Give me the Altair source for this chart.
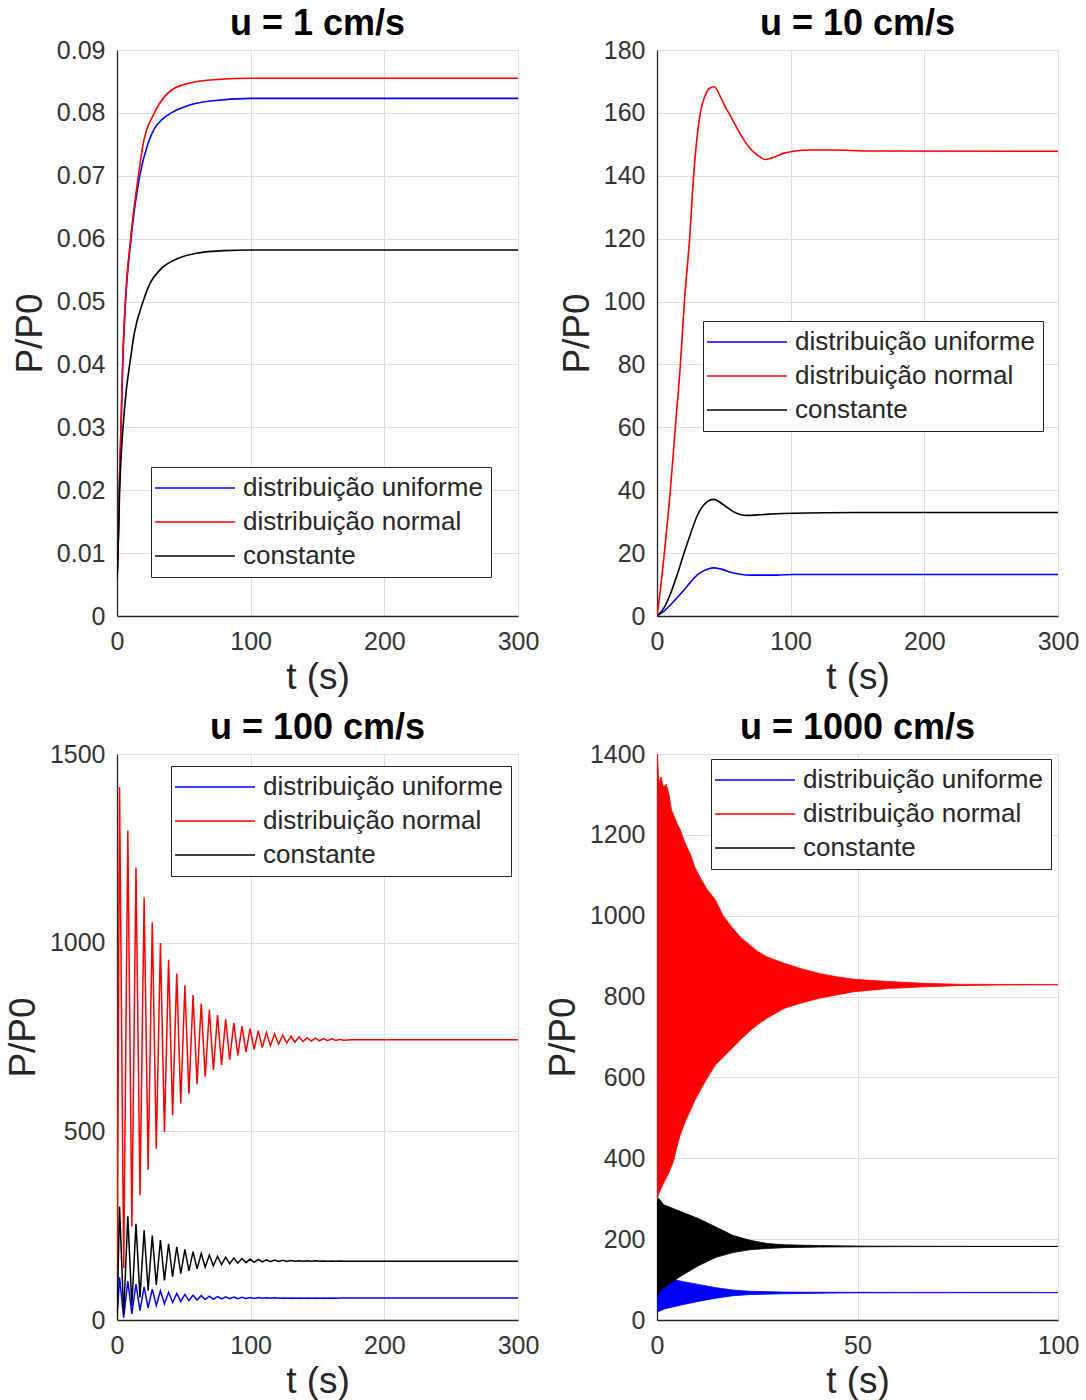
import altair as alt
import pandas as pd

FONT = "Liberation Sans"
SERIES = ["distribuição uniforme", "distribuição normal", "constante"]
COLORS = ["#0000ff", "#ff0000", "#000000"]

# ---------------- u = 1 cm/s ----------------
u1_uniform_t = [0, 0.75, 1.7, 3, 4.3, 6.4, 10.5, 17, 23, 28, 34, 40.6, 55, 70, 100, 150, 300]
u1_uniform_v = [0.0056, 0.010, 0.020, 0.030, 0.040, 0.050, 0.060, 0.070, 0.075, 0.0775, 0.079,
                0.0800, 0.0813, 0.0819, 0.0823, 0.0823, 0.0823]
u1_normal_t = [0, 0.75, 1.7, 3, 4.2, 6.2, 10.2, 16, 19.5, 28, 40.6, 55.6, 75, 100, 150, 300]
u1_normal_v = [0.0056, 0.010, 0.020, 0.030, 0.040, 0.050, 0.060, 0.070, 0.075, 0.080, 0.0836,
               0.0848, 0.0853, 0.0855, 0.0855, 0.0855]
u1_const_t = [0, 1, 2, 3, 4.5, 7, 9.5, 13, 19.5, 25, 32, 45, 60, 80, 100, 150, 300]
u1_const_v = [0.0056, 0.012, 0.020, 0.025, 0.030, 0.036, 0.040, 0.045, 0.050, 0.053, 0.055,
              0.0568, 0.0577, 0.0581, 0.0582, 0.0582, 0.0582]

# ---------------- u = 10 cm/s ----------------
u10_uniform_t = [0, 5, 10, 15, 20, 25, 30, 34, 37.4, 42.4, 48, 55, 62, 70, 80, 90, 102, 150, 300]
u10_uniform_v = [0, 1.5, 3.5, 5.8, 8.2, 10.7, 13.0, 14.2, 14.8, 15.3, 14.9, 13.9, 13.3, 13.0,
                 13.0, 13.0, 13.2, 13.2, 13.2]
u10_normal_t = [0, 3, 5.5, 10, 13.7, 17.5, 20.5, 24.4, 27.4, 32.4, 36, 40, 43, 47, 51, 55, 60,
                65, 70, 75, 81, 88, 95, 102, 115, 130, 160, 300]
u10_normal_v = [0, 10, 20, 40, 60, 80, 100, 120, 140, 160, 165.5, 168, 168.3, 165.5, 162, 159,
                155, 151.4, 148.5, 146.6, 145.2, 146, 147.2, 147.8, 148.2, 148.2, 147.9, 147.8]
u10_const_t = [0, 5, 10, 15, 20, 25, 30, 35, 42.4, 50, 57, 67, 80, 102, 150, 300]
u10_const_v = [0, 2.4, 7, 13, 19.7, 26, 31.8, 35.3, 37.1, 35.3, 33.2, 32.0, 32.3, 32.7, 32.9, 32.9]

# ---------------- u = 100 cm/s ----------------
# times of successive maxima / minima of the damped oscillation (shared by the three curves)
u100_t = [0, 1.9, 5.0, 8.1, 11.1, 14.2, 17.2, 20.3, 23.3, 26.4, 29.4, 32.5, 35.5, 38.6, 41.6,
          44.7, 47.7, 50.8, 53.8, 56.9, 59.9, 63.0, 66.0, 69.1, 72.1, 75.2, 78.2, 81.3, 84.3,
          87.4, 90.4, 93.5, 96.5, 99.6, 102.6, 105.7, 108.7, 111.8, 114.8, 117.9, 120.9, 124.0,
          127.0, 130.1, 133.1, 136.2, 139.2, 142.3, 145.3, 148.4, 151.4, 154.5, 157.5, 160.6,
          163.6, 166.7, 169.7, 175, 300]
u100_normal_peaks = [1412, 1297, 1199, 1120, 1054, 999, 955, 918, 887, 861, 839, 822, 808, 797,
                     787, 779, 772, 767, 762, 758, 755, 752, 750, 748, 747, 746, 745, 744]
u100_normal_troughs = [137, 248, 330, 398, 454, 498, 543, 574, 600, 625, 645, 663, 676, 690,
                       701, 710, 717, 722, 727, 731, 734, 736, 738, 739, 740, 740.5, 741, 741.3]
u100_normal_end = [742.5, 742.5]
u100_const_peaks = [301, 275, 255, 238, 224, 212, 202, 194, 187, 181, 176, 172, 169, 166.5,
                    164.5, 163, 161.5, 160.5, 159.5, 158.8, 158.2, 157.7, 157.3, 157, 156.7,
                    156.5, 156.3, 156.2]
u100_const_troughs = [15, 38, 60, 78, 93, 105, 115, 123, 130, 135.5, 140, 143.5, 146.5, 148.8,
                      150.6, 152, 153, 153.8, 154.4, 154.9, 155.2, 155.5, 155.7, 155.8, 155.9,
                      156, 156, 156]
u100_const_end = [156, 156]
u100_uniform_peaks = [113, 103, 95, 88, 82, 77.5, 73.5, 70.5, 68, 66, 64.5, 63.2, 62.1, 61.2,
                      60.5, 60, 59.6, 59.3, 59, 58.8, 58.6, 58.5, 58.4, 58.3, 58.2, 58.15, 58.1,
                      58.1]
u100_uniform_troughs = [6, 16, 25, 32.5, 38.5, 43, 46.5, 49.2, 51.3, 52.9, 54.1, 55, 55.7, 56.2,
                        56.6, 56.9, 57.2, 57.4, 57.5, 57.6, 57.7, 57.8, 57.85, 57.9, 57.9, 57.95,
                        57.95, 58]
u100_uniform_end = [58, 58]

# ---------------- u = 1000 cm/s (oscillation envelopes) ----------------
u1000_normal_t = [0, 0.5, 1, 1.6, 2.3, 3, 3.6, 4.1, 5.0, 5.8, 7.0, 8.4, 9.5, 11, 12.5, 14.5,
                  16.5, 18.8, 21, 23.1, 25, 27.5, 31.8, 36, 40.5, 44.8, 49.1, 57.8, 66.5, 75,
                  85, 100]
u1000_normal_hi = [1400, 1330, 1343, 1318, 1325, 1300, 1262, 1250, 1228, 1212, 1180, 1150, 1118,
                   1090, 1065, 1040, 1000, 970, 945, 928, 912, 898, 882, 869, 857, 849, 843, 837,
                   833, 830.5, 830, 830]
u1000_normal_lo = [300, 313, 325, 338, 352, 365, 380, 392, 430, 458, 490, 520, 545, 572, 598,
                   630, 650, 673, 695, 714, 730, 747, 771, 784, 796, 804, 812, 820, 824, 827,
                   828.5, 829]
u1000_const_t = [0, 0.4, 1.7, 6, 10.3, 14.7, 19, 23.3, 27.6, 31.9, 40.5, 50, 60, 75, 100]
u1000_const_hi = [290, 301, 285, 268, 251, 230, 209, 197, 189, 186, 184, 183, 182.5, 182.3,
                  182.2]
u1000_const_lo = [60, 67, 80, 109, 134, 155, 167, 174, 177, 179, 180.5, 181, 181.5, 181.7,
                  181.8]
u1000_uniform_t = [0, 0.4, 2, 4.3, 6, 10.3, 14.7, 19, 23.3, 31.9, 45, 60, 100]
u1000_uniform_hi = [60, 92, 98, 100, 96, 88, 80, 74, 71, 69, 68.5, 68.3, 68.2]
u1000_uniform_lo = [18, 21, 28, 33, 37, 46, 54, 60, 63, 65, 66.8, 67.3, 67.6]


def interleave(peaks, troughs, end):
    """Start at zero, then alternate maximum / minimum, then the settled value."""
    vals = [0]
    for p, q in zip(peaks, troughs):
        vals += [p, q]
    return vals + end


color_scale = alt.Scale(domain=SERIES, range=COLORS)

TL_LABELS = "datum.value == 0 ? '0' : format(datum.value, '.2f')"


def legend(x, y):
    return alt.Legend(
        orient="none", legendX=x, legendY=y, title=None,
        symbolType="M-4.25,0H15.75", symbolSize=64, symbolStrokeWidth=1.5, symbolOpacity=1,
        labelOffset=58, labelLimit=600, rowPadding=8, padding=8,
        fillColor="white", strokeColor="#262626",
        labelFont=FONT, labelFontSize=26, labelColor="#262626",
    )


def x_enc(x_max, ticks):
    return alt.X("t:Q", scale=alt.Scale(domain=[0, x_max], nice=False, zero=False),
                 axis=alt.Axis(values=ticks, title="t (s)", format="d"))


def y_enc(field, y_max, ticks, label_expr=None):
    if label_expr:
        ax = alt.Axis(values=ticks, title="P/P0", labelExpr=label_expr)
    else:
        ax = alt.Axis(values=ticks, title="P/P0", format="d")
    return alt.Y(f"{field}:Q", scale=alt.Scale(domain=[0, y_max], nice=False, zero=False),
                 axis=ax)


def line_panel(title, curves, x_max, x_ticks, y_max, y_ticks, lx, ly,
               width=1.6, interp="monotone", label_expr=None):
    layers = []
    for name, (ts, vs) in zip(SERIES, curves):
        df = pd.DataFrame({"t": ts, "v": vs, "s": name})
        layers.append(
            alt.Chart(df).mark_line(strokeWidth=width, interpolate=interp, clip=True).encode(
                x=x_enc(x_max, x_ticks),
                y=y_enc("v", y_max, y_ticks, label_expr),
                color=alt.Color("s:N", scale=color_scale, legend=legend(lx, ly)),
            )
        )
    return alt.layer(*layers).properties(width=401, height=566, title=title)


def band_panel(title, bands, x_max, x_ticks, y_max, y_ticks, lx, ly):
    layers = []
    for (name, col), (ts, lo, hi) in zip(zip(SERIES, COLORS), bands):
        df = pd.DataFrame({"t": ts, "lo": lo, "hi": hi, "s": name})
        layers.append(
            alt.Chart(df).mark_area(fill=col, strokeWidth=0.8, clip=True).encode(
                x=x_enc(x_max, x_ticks),
                y=y_enc("lo", y_max, y_ticks),
                y2="hi:Q",
                stroke=alt.Stroke("s:N", scale=color_scale, legend=legend(lx, ly)),
            )
        )
    return alt.layer(*layers).properties(width=401, height=566, title=title)


p1 = line_panel(
    "u = 1 cm/s",
    [(u1_uniform_t, u1_uniform_v), (u1_normal_t, u1_normal_v), (u1_const_t, u1_const_v)],
    300, [0, 100, 200, 300], 0.09, [i / 100 for i in range(10)], 34, 417,
    label_expr=TL_LABELS,
)
p2 = line_panel(
    "u = 10 cm/s",
    [(u10_uniform_t, u10_uniform_v), (u10_normal_t, u10_normal_v), (u10_const_t, u10_const_v)],
    300, [0, 100, 200, 300], 180, list(range(0, 181, 20)), 46, 271,
)
p3 = line_panel(
    "u = 100 cm/s",
    [(u100_t, interleave(u100_uniform_peaks, u100_uniform_troughs, u100_uniform_end)),
     (u100_t, interleave(u100_normal_peaks, u100_normal_troughs, u100_normal_end)),
     (u100_t, interleave(u100_const_peaks, u100_const_troughs, u100_const_end))],
    300, [0, 100, 200, 300], 1500, [0, 500, 1000, 1500], 54, 12,
    width=1.5, interp="linear",
)
p4 = band_panel(
    "u = 1000 cm/s",
    [(u1000_uniform_t, u1000_uniform_lo, u1000_uniform_hi),
     (u1000_normal_t, u1000_normal_lo, u1000_normal_hi),
     (u1000_const_t, u1000_const_lo, u1000_const_hi)],
    100, [0, 50, 100], 1400, list(range(0, 1401, 200)), 54, 5,
)

chart = (
    alt.concat(p1, p2, p3, p4, columns=2, spacing={"row": 138, "column": 139}, bounds="flush")
    .resolve_scale(color="independent", stroke="independent", x="independent", y="independent")
    .resolve_legend(color="independent", stroke="independent")
    .properties(padding={"left": 4, "top": 6, "right": 4, "bottom": 4}, background="white")
    .configure_view(stroke=None)
    .configure_axis(
        labelFont=FONT, labelFontSize=25, labelColor="#333333",
        titleFont=FONT, titleFontSize=37, titleFontWeight="normal", titleColor="#262626",
        domainColor="#262626", domainWidth=1.3,
        gridColor="#dedede", gridWidth=1,
        ticks=False, labelFlush=False, labelOverlap=False,
    )
    .configure_axisX(labelPadding=13, titlePadding=5)
    .configure_axisY(labelPadding=12, titlePadding=7)
    .configure_title(font=FONT, fontSize=36, fontWeight="bold", color="#000000",
                     anchor="middle", frame="group", offset=-5)
)

chart.save("out.html", embed_options={"renderer": "svg", "actions": False})
